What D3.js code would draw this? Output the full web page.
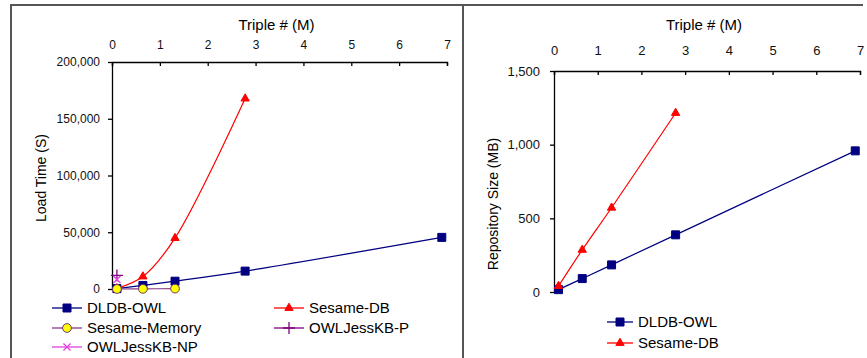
<!DOCTYPE html>
<html>
<head>
<meta charset="utf-8">
<script src="https://cdn.jsdelivr.net/npm/d3@7"></script>
<style>
  body { margin: 0; background: #fff; }
  svg { font-family: Arial, "Liberation Sans", sans-serif; }
  .axis path, .axis line { stroke: #000; stroke-width: 1.3; }
  .axis text { fill: #111; }
</style>
</head>
<body>
<script>
//chart data
var triples = [0.103, 0.646, 1.317, 2.782, 6.891];   //millions of triples
var xTicks = [0, 1, 2, 3, 4, 5, 6, 7];
var loadTicks = [0, 50000, 100000, 150000, 200000];
var sizeTicks = [0, 500, 1000, 1500];

//load time (s)
var dldbLoad = [343, 3117, 6881, 15773, 45477];
var sesameDbLoad = [542, 11000, 44870, 167753];
var sesameMemLoad = [13, 113, 340];
var jessPLoad = [12000];
var jessNPLoad = [8358];

//repository size (MB)
var dldbSize = [16, 91, 184, 388, 958];
var sesameDbSize = [40, 286, 572, 1215];

(function(){
var svg = d3.select("body").append("svg")
    .attr("width", 867)
    .attr("height", 358);

//outer frame
svg.append("path")
    .attr("d", "M11,358V5H863M463,5V358")
    .attr("fill", "none")
    .attr("stroke", "#555")
    .attr("stroke-width", 2);

var sym = {
  square: d3.symbol().type(d3.symbolSquare).size(64),
  triangle: d3.symbol().type(d3.symbolTriangle).size(30),
  circle: d3.symbol().type(d3.symbolCircle).size(60)
};

//draw a marker of a series at (x,y)
function marker(g, s, x, y){
  if (s.shape == "plus" || s.shape == "x"){
    var r = s.shape == "plus" ? 6 : 5;
    g.append("path")
        .attr("transform", "translate(" + x + "," + y + ")" + (s.shape == "x" ? " rotate(45)" : ""))
        .attr("d", "M" + (-r) + ",0H" + r + "M0," + (-r) + "V" + r)
        .attr("stroke", s.color)
        .attr("stroke-width", 1.3);
    return;
  }
  g.append("path")
      .attr("transform", "translate(" + x + "," + y + ")")
      .attr("d", sym[s.shape]())
      .attr("fill", s.fill)
      .attr("stroke", s.shape == "circle" ? "#6b3a6b" : s.fill)
      .attr("stroke-width", 1);
}

function drawChart(opt){
  var x = d3.scaleLinear().domain([0, 7]).range(opt.xRange);
  var y = d3.scaleLinear().domain([0, opt.yMax]).range(opt.yRange);

  var xAxis = d3.axisTop(x)
      .tickValues(xTicks)
      .tickSize(-4)
      .tickPadding(opt.xPad)
      .tickFormat(d3.format("d"));
  svg.append("g")
      .attr("class", "axis")
      .attr("transform", "translate(0," + opt.yRange[1] + ")")
      .style("font-size", opt.tickFont + "px")
      .call(xAxis);

  var yAxis = d3.axisLeft(y)
      .tickValues(opt.yTicks)
      .tickSize(4)
      .tickSizeOuter(0)
      .tickPadding(opt.yPad)
      .tickFormat(d3.format(","));
  svg.append("g")
      .attr("class", "axis")
      .attr("transform", "translate(" + opt.xRange[0] + ",0)")
      .style("font-size", opt.tickFont + "px")
      .call(yAxis);

  //axis titles
  svg.append("text")
      .attr("x", (opt.xRange[0] + opt.xRange[1]) / 2 - 3)
      .attr("y", 30)
      .attr("text-anchor", "middle")
      .style("font-size", "15px")
      .text("Triple # (M)");
  svg.append("text")
      .attr("transform", "translate(" + opt.yLabelPos[0] + "," + opt.yLabelPos[1] + ") rotate(-90)")
      .attr("text-anchor", "middle")
      .style("font-size", "14px")
      .text(opt.yLabel);

  var line = d3.line()
      .x(function(d){ return x(d[0]); })
      .y(function(d){ return y(d[1]); })
      .curve(d3.curveCatmullRom.alpha(0.5));

  opt.series.forEach(function(s){
    var pts = s.values.map(function(v, i){ return [triples[i], v]; });
    var g = svg.append("g");
    if (pts.length > 1){
      g.append("path")
          .datum(pts)
          .attr("d", line)
          .attr("fill", "none")
          .attr("stroke", s.color)
          .attr("stroke-width", 1.2);
    }
    pts.forEach(function(p){ marker(g, s, x(p[0]), y(p[1])); });
  });

  //legend
  opt.series.forEach(function(s, i){
    var lx = opt.legend[i][0], ly = opt.legend[i][1];
    var g = svg.append("g");
    g.append("line")
        .attr("x1", lx).attr("x2", lx + opt.legendLen)
        .attr("y1", ly).attr("y2", ly)
        .attr("stroke", s.color)
        .attr("stroke-width", 1.3);
    marker(g, s, lx + opt.legendLen / 2, ly);
    g.append("text")
        .attr("x", lx + opt.legendLen + 5)
        .attr("y", ly + 5)
        .style("font-size", "15px")
        .text(s.name);
  });
}

//load time chart
drawChart({
  xRange: [112, 447], yRange: [289, 62], yMax: 200000, yTicks: loadTicks,
  xPad: 13, yPad: 8, tickFont: 12,
  yLabel: "Load Time (S)", yLabelPos: [46, 178],
  legendLen: 30,
  legend: [[52, 308], [274, 308], [52, 328], [274, 328], [52, 347]],
  series: [
    {name: "DLDB-OWL", values: dldbLoad, color: "#000080", fill: "#000080", shape: "square"},
    {name: "Sesame-DB", values: sesameDbLoad, color: "#ff0000", fill: "#ff0000", shape: "triangle"},
    {name: "Sesame-Memory", values: sesameMemLoad, color: "#8a3c8a", fill: "#ffff00", shape: "circle"},
    {name: "OWLJessKB-P", values: jessPLoad, color: "#800080", fill: "#800080", shape: "plus"},
    {name: "OWLJessKB-NP", values: jessNPLoad, color: "#e040e0", fill: "#e040e0", shape: "x"}
  ]
});

//repository size chart
drawChart({
  xRange: [554, 860], yRange: [292, 71], yMax: 1500, yTicks: sizeTicks,
  xPad: 16, yPad: 10, tickFont: 13,
  yLabel: "Repository Size (MB)", yLabelPos: [498, 204],
  legendLen: 26,
  legend: [[607, 322], [607, 343]],
  series: [
    {name: "DLDB-OWL", values: dldbSize, color: "#000080", fill: "#000080", shape: "square"},
    {name: "Sesame-DB", values: sesameDbSize, color: "#ff0000", fill: "#ff0000", shape: "triangle"}
  ]
});
})();
</script>
</body>
</html>
